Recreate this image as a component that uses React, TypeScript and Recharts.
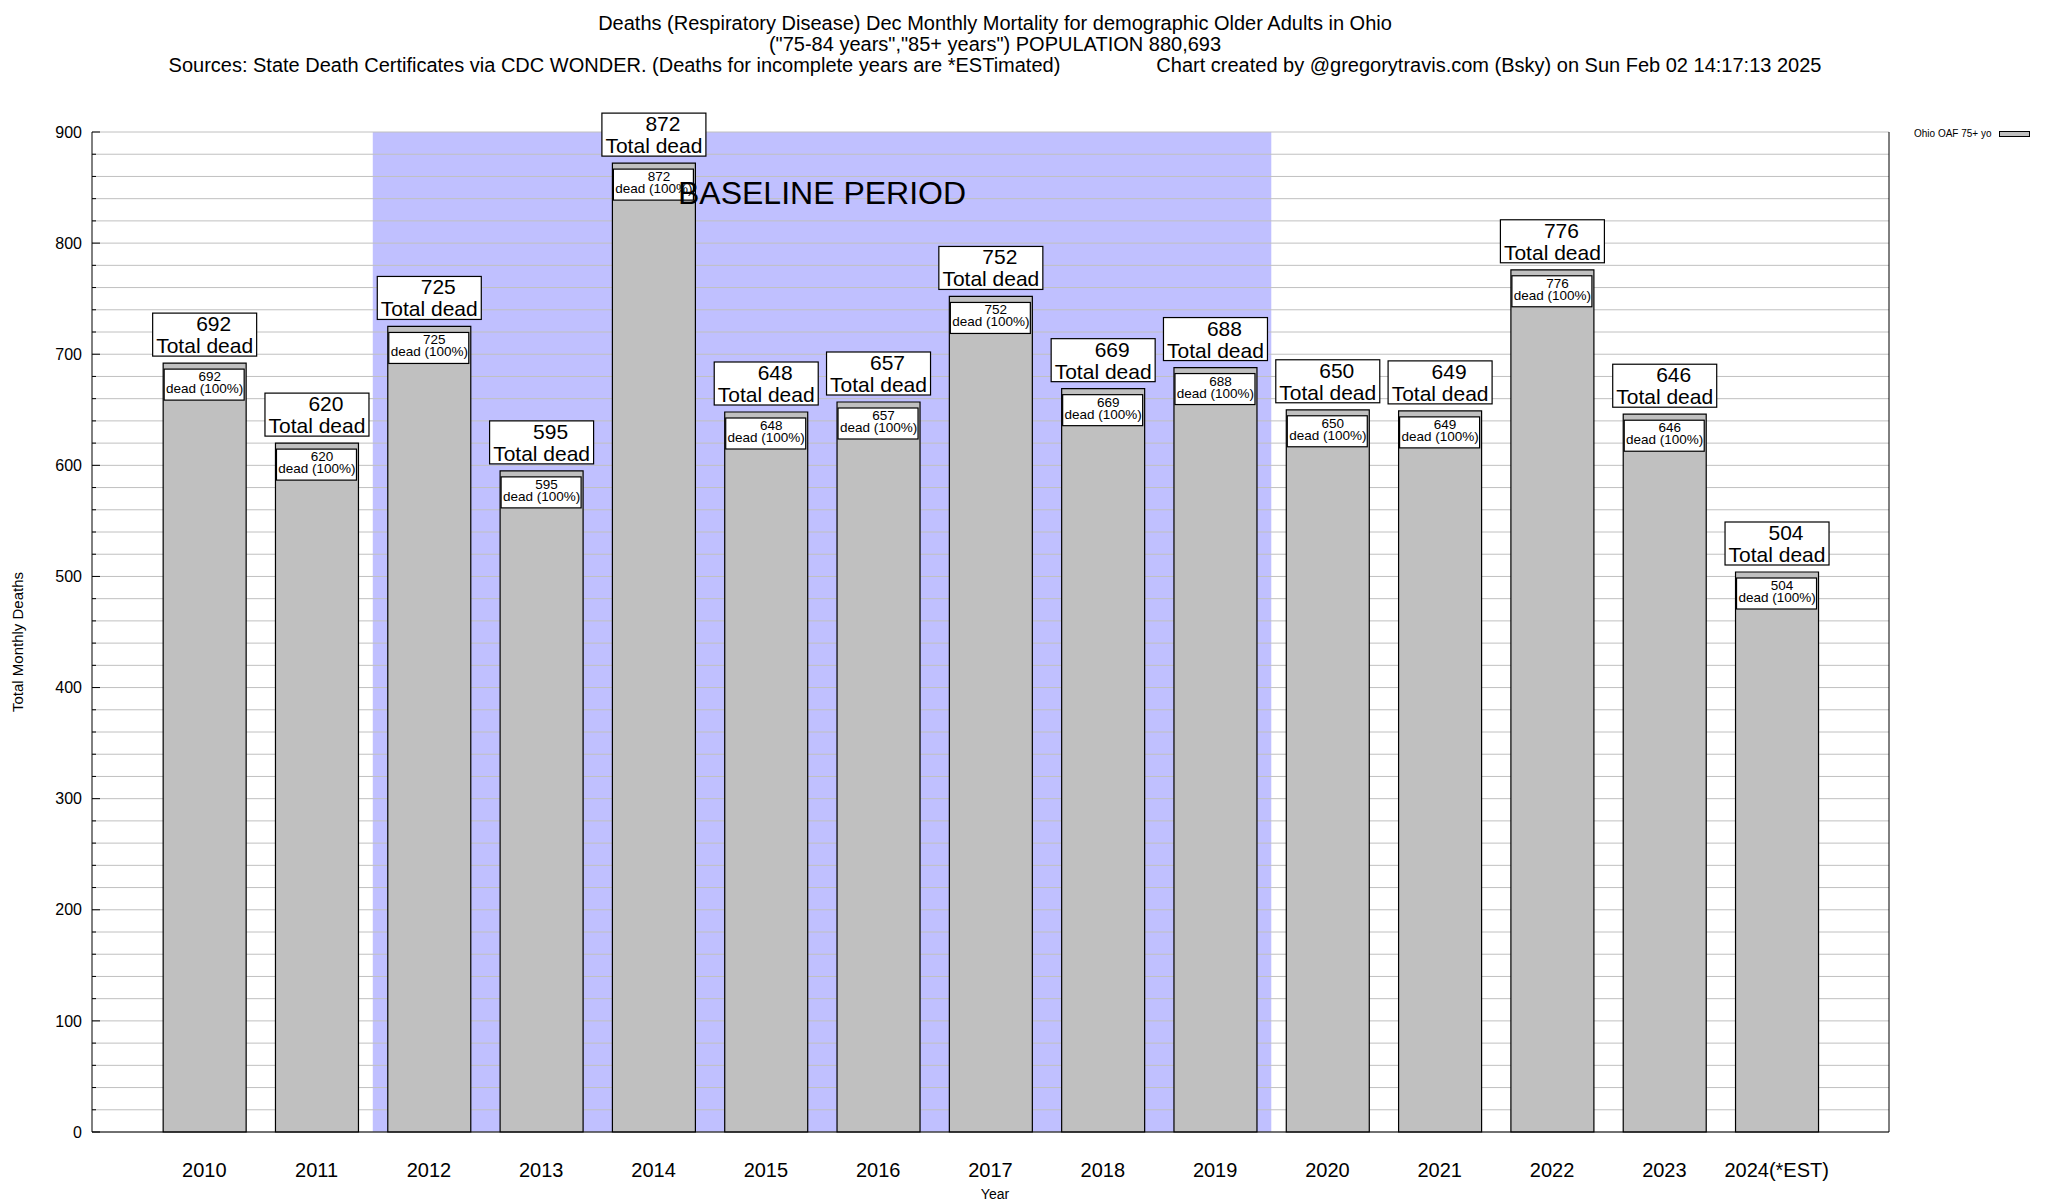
import React from 'react';
import { ComposedChart, Bar, XAxis, YAxis, CartesianGrid, ReferenceArea, ReferenceDot, LabelList } from 'recharts';

const FONT = '"Liberation Sans", Arial, Helvetica, sans-serif';

// Ohio, older adults, December respiratory deaths
const YEARS = ['2010', '2011', '2012', '2013', '2014', '2015', '2016', '2017', '2018', '2019', '2020', '2021', '2022', '2023', '2024(*EST)'];
const DEATHS = [692, 620, 725, 595, 872, 648, 657, 752, 669, 688, 650, 649, 776, 646, 504];
const SERIES_NAME = 'Ohio OAF 75+ yo';

const Y_TICKS = Array.from({ length: 46 }, (_, i) => i * 20);
const X_TICKS = YEARS.map((_, i) => i);

// baseline period shading, 2012 through 2019
const BASELINE_FROM = 1.5;
const BASELINE_TO = 9.5;
const BASELINE_LABEL = { x: 5.5, y: 845, text: 'BASELINE PERIOD' };

const TITLE_1 = 'Deaths (Respiratory Disease) Dec Monthly Mortality for demographic Older Adults in Ohio';
const TITLE_2 = '("75-84 years","85+ years") POPULATION 880,693';
const SOURCE = 'Sources: State Death Certificates via CDC WONDER. (Deaths for incomplete years are *ESTimated)';
const CREDIT = 'Chart created by @gregorytravis.com (Bsky) on Sun Feb 02 14:17:13 2025';

const chartData = YEARS.map((year, i) => ({ x: i, year, deaths: DEATHS[i] }));

const Y_TICK_MARGIN = 10;

function LeftTick(props: any) {
  const { x, y, payload } = props;
  const major = payload.value % 100 === 0;
  const axisX = x + Y_TICK_MARGIN;
  return (
    <g>
      <line x1={axisX} x2={axisX + (major ? 8 : 4)} y1={y} y2={y} stroke="#000" />
      {major && (
        <text x={x} y={y} dy="0.355em" textAnchor="end" fontSize={16} fontFamily={FONT} fill="#000">
          {payload.value}
        </text>
      )}
    </g>
  );
}

function RightTick(props: any) {
  const { x, y, payload } = props;
  const major = payload.value % 100 === 0;
  return <line x1={x - (major ? 8 : 4)} x2={x} y1={y} y2={y} stroke="#000" />;
}

function TopTick(props: any) {
  const { x, y } = props;
  return <line x1={x} x2={x} y1={y} y2={y + 6} stroke="#000" />;
}

function BarLabel(props: any) {
  const { x, y, width, value } = props;
  if (x == null || y == null) return null;
  const cx = x + width / 2;
  return (
    <g fontFamily={FONT} fill="#000">
      <rect x={cx - 52} y={y - 50} width={104} height={43} fill="#fff" stroke="#000" strokeWidth={1.2} />
      <text x={cx + 9} y={y - 32} textAnchor="middle" fontSize={21}>{value}</text>
      <text x={cx} y={y - 10} textAnchor="middle" fontSize={21}>Total dead</text>
      <rect x={x + 1} y={y + 6} width={width - 3} height={31} fill="#fff" stroke="#000" strokeWidth={1.2} />
      <text x={cx + 5} y={y + 18} textAnchor="middle" fontSize={13.5}>{value}</text>
      <text x={cx} y={y + 30} textAnchor="middle" fontSize={13.5}>dead (100%)</text>
    </g>
  );
}

export default function App() {
  return (
    <div style={{ position: 'absolute', left: 0, top: 0, width: 2048, height: 1200, background: '#fff', fontFamily: FONT, color: '#000' }}>
      <div style={{ position: 'absolute', left: 0, width: 1990, top: 13, textAlign: 'center', fontSize: 20, lineHeight: '21px' }}>
        <div>{TITLE_1}</div>
        <div>{TITLE_2}</div>
        <div style={{ whiteSpace: 'nowrap' }}>
          <span>{SOURCE}</span>
          <span style={{ marginLeft: 96 }}>{CREDIT}</span>
        </div>
      </div>

      <ComposedChart
        width={2048}
        height={1200}
        data={chartData}
        margin={{ top: 132, right: 158, bottom: 8, left: 32 }}
      >
        <CartesianGrid vertical={false} stroke="#c0c0c0" />
        <ReferenceArea
          x1={BASELINE_FROM}
          x2={BASELINE_TO}
          y1={0}
          y2={900}
          fill="#c0c0ff"
          fillOpacity={1}
          stroke="none"
          zIndex={-150}
        />
        <XAxis
          dataKey="x"
          type="number"
          domain={[-1, 15]}
          ticks={X_TICKS}
          tickFormatter={(i: number) => YEARS[i]}
          tick={{ fontSize: 20, fill: '#000', fontFamily: FONT }}
          tickLine={false}
          tickSize={0}
          tickMargin={31}
          height={60}
          axisLine={{ stroke: '#000' }}
          allowDecimals={false}
        />
        <XAxis
          xAxisId="top"
          dataKey="x"
          type="number"
          orientation="top"
          domain={[-1, 15]}
          ticks={X_TICKS}
          tick={<TopTick />}
          tickLine={false}
          tickSize={0}
          tickMargin={0}
          height={0}
          axisLine={{ stroke: '#000' }}
        />
        <YAxis
          type="number"
          domain={[0, 900]}
          ticks={Y_TICKS}
          interval={0}
          tick={<LeftTick />}
          tickLine={false}
          tickSize={0}
          tickMargin={Y_TICK_MARGIN}
          width={60}
          axisLine={{ stroke: '#000' }}
        />
        <YAxis
          yAxisId="r"
          orientation="right"
          type="number"
          domain={[0, 900]}
          ticks={Y_TICKS}
          interval={0}
          tick={<RightTick />}
          tickLine={false}
          tickSize={0}
          tickMargin={0}
          width={1}
          axisLine={{ stroke: '#000' }}
        />
        <Bar
          dataKey="deaths"
          name={SERIES_NAME}
          fill="#c0c0c0"
          stroke="#000"
          strokeWidth={1.2}
          barSize={83}
          isAnimationActive={false}
        >
          <LabelList dataKey="deaths" content={<BarLabel />} />
        </Bar>
        <ReferenceDot
          x={BASELINE_LABEL.x}
          y={BASELINE_LABEL.y}
          r={0}
          zIndex={2500}
          shape={(p: any) => (
            <text x={p.cx} y={p.cy} dy="0.355em" textAnchor="middle" fontSize={32} fontFamily={FONT} fill="#000">
              {BASELINE_LABEL.text}
            </text>
          )}
        />
      </ComposedChart>

      <div style={{ position: 'absolute', left: 1914, top: 128, display: 'flex', alignItems: 'center', fontSize: 10, whiteSpace: 'nowrap' }}>
        <span>{SERIES_NAME}</span>
        <span style={{ display: 'inline-block', width: 29, height: 4, marginLeft: 7, background: '#c0c0c0', border: '1px solid #000' }} />
      </div>

      <div
        style={{
          position: 'absolute',
          left: 17,
          top: 642,
          transform: 'translate(-50%, -50%) rotate(-90deg)',
          whiteSpace: 'nowrap',
          fontSize: 15,
        }}
      >
        Total Monthly Deaths
      </div>
      <div style={{ position: 'absolute', left: 995, top: 1194, transform: 'translate(-50%, -50%)', fontSize: 14 }}>Year</div>
    </div>
  );
}
